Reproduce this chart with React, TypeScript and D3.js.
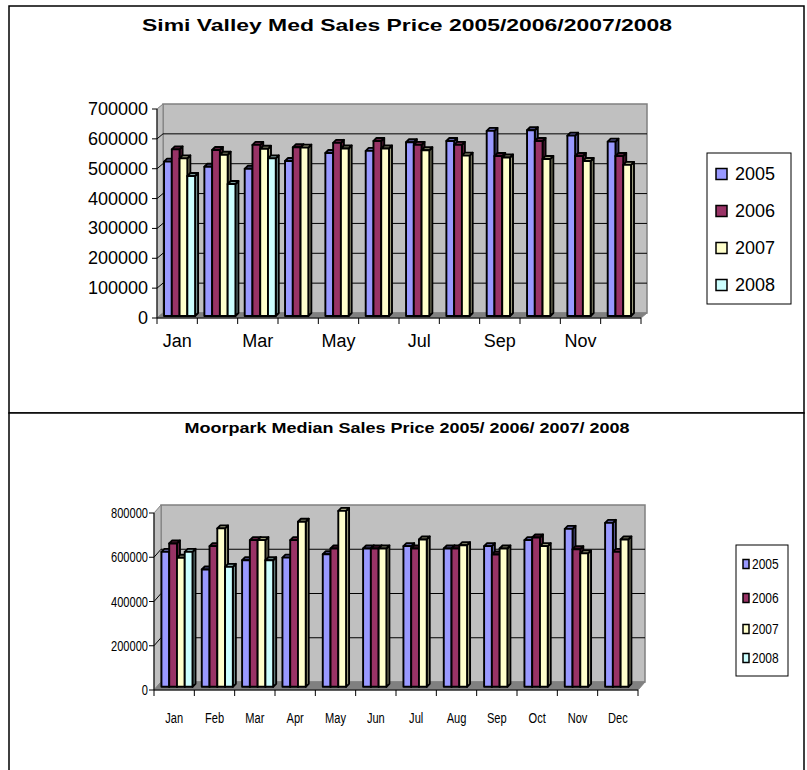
import * as d3 from 'd3'
import { useEffect, useRef } from 'react'

const months = ['Jan', 'Feb', 'Mar', 'Apr', 'May', 'Jun', 'Jul', 'Aug', 'Sep', 'Oct', 'Nov', 'Dec']
const years = ['2005', '2006', '2007', '2008']
const yearColors = ['#9999ff', '#993366', '#ffffcc', '#ccffff']

// Simi Valley median sales price
const simi2005 = [517000, 500000, 493000, 519000, 546000, 553000, 582000, 586000, 620000, 622000, 604000, 584000]
const simi2006 = [558000, 556000, 573000, 565000, 580000, 586000, 573000, 573000, 536000, 586000, 536000, 536000]
const simi2007 = [528000, 540000, 560000, 564000, 561000, 561000, 555000, 537000, 531000, 526000, 519000, 506000]
const simi2008 = [469000, 442000, 528000, null, null, null, null, null, null, null, null, null]
const simiTicks = [0, 100000, 200000, 300000, 400000, 500000, 600000, 700000]
const simiMonthLabels = ['Jan', 'Mar', 'May', 'Jul', 'Sep', 'Nov']

// Moorpark median sales price
const moor2005 = [610000, 530000, 572000, 584000, 599000, 625000, 636000, 625000, 636000, 663000, 714000, 741000]
const moor2006 = [648000, 636000, 663000, 663000, 625000, 625000, 625000, 625000, 598000, 675000, 622000, 610000]
const moor2007 = [583000, 716000, 663000, 746000, 795000, 625000, 666000, 640000, 625000, 636000, 603000, 666000]
const moor2008 = [610000, 542000, 572000, null, null, null, null, null, null, null, null, null]
const moorTicks = [0, 200000, 400000, 600000, 800000]

const poly = (pts: number[][]) => pts.map(p => p.join(',')).join(' ')

function drawPanel(svg: any, cfg: any) {
  const { series, ticks, labels, x0, x1, y0, yTop, dx, dy, font, sc, labelGap } = cfg
  const max = ticks[ticks.length - 1]
  const g = svg.append('g')
  const x = d3.scaleBand<string>().domain(months).range([x0, x1]).paddingInner(0).paddingOuter(0)
  const y = d3.scaleLinear().domain([0, max]).range([y0, yTop])
  const bw = x.bandwidth()
  const cluster = bw * 0.77
  const inner = d3.scaleBand<string>().domain(years).range([0, cluster])
  const w = inner.bandwidth()
  const bdx = 3, bdy = -3

  // walls and floor
  g.append('polygon')
    .attr('points', poly([[x0 + dx, yTop + dy], [x1 + dx, yTop + dy], [x1 + dx, y0 + dy], [x0 + dx, y0 + dy]]))
    .attr('fill', '#c0c0c0').attr('stroke', '#808080').attr('stroke-width', 1.5)
  g.append('polygon')
    .attr('points', poly([[x0, y0], [x0, yTop], [x0 + dx, yTop + dy], [x0 + dx, y0 + dy]]))
    .attr('fill', '#c0c0c0').attr('stroke', '#808080').attr('stroke-width', 1)
  g.append('polygon')
    .attr('points', poly([[x0, y0], [x1, y0], [x1 + dx, y0 + dy], [x0 + dx, y0 + dy]]))
    .attr('fill', '#808080').attr('stroke', '#808080').attr('stroke-width', 1)

  g.selectAll('polyline.grid')
    .data(ticks.filter((t: number) => t > 0 && t < max))
    .join('polyline')
    .attr('class', 'grid')
    .attr('points', (t: number) => poly([[x0, y(t)], [x0 + dx, y(t) + dy], [x1 + dx, y(t) + dy]]))
    .attr('fill', 'none').attr('stroke', '#000').attr('stroke-width', 1)

  // bars, left to right so later bars hide side faces
  const items: any[] = []
  months.forEach((m, mi) => {
    series.forEach((vals: (number | null)[], si: number) => {
      if (vals[mi] != null) items.push({ m, si, v: vals[mi] })
    })
  })
  const sx = dx * 0.4, sy = dy * 0.4
  const bar = g.selectAll('g.bar').data(items).join('g').attr('class', 'bar')
    .attr('stroke', '#000').attr('stroke-width', 1.9).attr('stroke-linejoin', 'round')
  bar.each(function (this: any, d: any) {
    const bx = (x(d.m) as number) + (bw - cluster) / 2 + sx + (inner(years[d.si]) as number)
    const bt = y(d.v) + sy
    const bb = y0 + sy
    const c = yearColors[d.si]
    const dark = d3.color(c)!.darker(1.4).formatHex()
    const sel = d3.select(this)
    sel.append('polygon')
      .attr('points', poly([[bx + w, bt], [bx + w + bdx, bt + bdy], [bx + w + bdx, bb + bdy], [bx + w, bb]]))
      .attr('fill', dark)
    sel.append('polygon')
      .attr('points', poly([[bx, bt], [bx + bdx, bt + bdy], [bx + w + bdx, bt + bdy], [bx + w, bt]]))
      .attr('fill', dark)
    sel.append('rect').attr('x', bx).attr('y', bt).attr('width', w).attr('height', bb - bt).attr('fill', c)
  })

  // axes
  g.append('line').attr('x1', x0).attr('x2', x0).attr('y1', y0).attr('y2', yTop).attr('stroke', '#000')
  g.append('line').attr('x1', x0).attr('x2', x1).attr('y1', y0).attr('y2', y0).attr('stroke', '#000')
  g.selectAll('line.yt').data(ticks).join('line').attr('class', 'yt')
    .attr('x1', x0 - 5).attr('x2', x0).attr('y1', (t: number) => y(t)).attr('y2', (t: number) => y(t))
    .attr('stroke', '#000')
  g.selectAll('line.xt').data(d3.range(months.length + 1)).join('line').attr('class', 'xt')
    .attr('x1', (i: number) => x0 + i * bw).attr('x2', (i: number) => x0 + i * bw)
    .attr('y1', y0).attr('y2', y0 + 6).attr('stroke', '#000')

  g.selectAll('g.yl').data(ticks).join('g').attr('class', 'yl')
    .attr('transform', (t: number) => `translate(${x0 - labelGap},${y(t)}) scale(${sc},1)`)
    .append('text').attr('text-anchor', 'end').attr('dominant-baseline', 'central')
    .attr('font-size', font).text((t: number) => String(t))
  g.selectAll('g.xl').data(labels).join('g').attr('class', 'xl')
    .attr('transform', (m: string) => `translate(${(x(m) as number) + bw / 2},${cfg.labelY}) scale(${sc},1)`)
    .append('text').attr('text-anchor', 'middle').attr('dominant-baseline', 'central')
    .attr('font-size', font).text((m: string) => m)

  // legend
  const lg = cfg.legend
  svg.append('rect').attr('x', lg.x).attr('y', lg.y).attr('width', lg.w).attr('height', lg.h)
    .attr('fill', '#fff').attr('stroke', '#000')
  years.forEach((yr, i) => {
    const cy = lg.rows[i]
    svg.append('rect').attr('x', lg.sx).attr('y', cy - lg.sh / 2).attr('width', lg.sw).attr('height', lg.sh)
      .attr('fill', yearColors[i]).attr('stroke', '#000').attr('stroke-width', 1.5)
    svg.append('g').attr('transform', `translate(${lg.tx},${cy}) scale(${lg.sc},1)`)
      .append('text').attr('dominant-baseline', 'central').attr('font-size', lg.font).text(yr)
  })
}

const App = () => {
  const ref = useRef<SVGSVGElement>(null)
  useEffect(() => {
    const svg = d3.select(ref.current)
    svg.selectAll('*').remove()
    svg.attr('font-family', 'Liberation Sans, Arial, sans-serif')

    svg.append('rect').attr('x', 9).attr('y', 6).attr('width', 795).attr('height', 407)
      .attr('fill', '#fff').attr('stroke', '#000').attr('stroke-width', 1.5)
    svg.append('rect').attr('x', 9).attr('y', 413).attr('width', 795).attr('height', 400)
      .attr('fill', '#fff').attr('stroke', '#000').attr('stroke-width', 1.5)

    svg.append('text').attr('x', 407).attr('y', 25).attr('text-anchor', 'middle')
      .attr('dominant-baseline', 'central').attr('font-weight', 'bold').attr('font-size', 17)
      .attr('textLength', 530).attr('lengthAdjust', 'spacingAndGlyphs')
      .text('Simi Valley Med Sales Price 2005/2006/2007/2008')
    svg.append('text').attr('x', 407).attr('y', 427).attr('text-anchor', 'middle')
      .attr('dominant-baseline', 'central').attr('font-weight', 'bold').attr('font-size', 15)
      .attr('textLength', 445).attr('lengthAdjust', 'spacingAndGlyphs')
      .text('Moorpark Median Sales Price 2005/ 2006/ 2007/ 2008')

    drawPanel(svg, {
      series: [simi2005, simi2006, simi2007, simi2008], ticks: simiTicks, labels: simiMonthLabels,
      x0: 157, x1: 641, y0: 318, yTop: 109, dx: 6, dy: -5, font: 18, sc: 1, labelGap: 9, labelY: 341,
      legend: { x: 707, y: 153, w: 84, h: 151, rows: [174, 211, 248, 285], sx: 716, sw: 11, sh: 11, tx: 735, font: 18, sc: 1 },
    })
    drawPanel(svg, {
      series: [moor2005, moor2006, moor2007, moor2008], ticks: moorTicks, labels: months,
      x0: 154, x1: 638, y0: 690, yTop: 513, dx: 7, dy: -8, font: 15, sc: 0.74, labelGap: 6, labelY: 718,
      legend: { x: 736, y: 545, w: 52, h: 131, rows: [564, 598, 629, 658], sx: 743, sw: 6, sh: 9, tx: 752, font: 15, sc: 0.8 },
    })
  }, [])
  return (
    <svg ref={ref} width={807} height={770} style={{ position: 'absolute', left: 0, top: 0 }} />
  )
}

export default App
